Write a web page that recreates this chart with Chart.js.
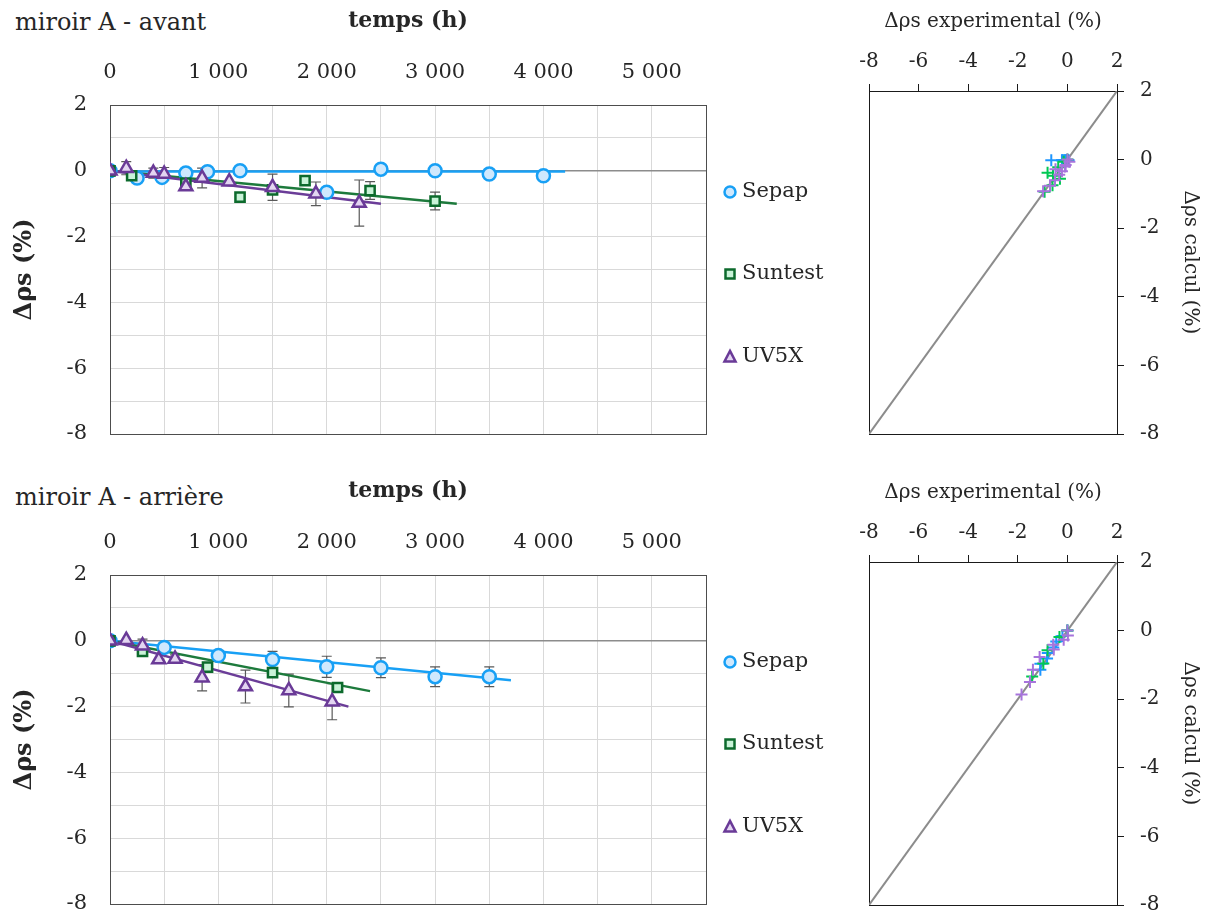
<!DOCTYPE html>
<html lang="fr">
<head>
<meta charset="utf-8">
<title>miroir A</title>
<script src="https://cdn.jsdelivr.net/npm/chart.js@4.4.1/dist/chart.umd.min.js"></script>
<style>
  body { margin: 0; background: #fff; }
  #wrap { position: relative; width: 1208px; height: 915px; overflow: hidden; }
  canvas { position: absolute; }
  .lbl { position: absolute; left: 15px; font: 24px "DejaVu Serif", serif; color: #262626; line-height: 30px; white-space: nowrap; }
</style>
</head>
<body>
<div id="wrap">
  <div class="lbl" style="top:7px">miroir A - avant</div>
  <div class="lbl" style="top:482px">miroir A - arrière</div>
  <canvas id="avant" width="840" height="470" style="left:0;top:0"></canvas>
  <canvas id="avantParity" width="368" height="470" style="left:840px;top:0"></canvas>
  <canvas id="arriere" width="840" height="470" style="left:0;top:470px"></canvas>
  <canvas id="arriereParity" width="368" height="470" style="left:840px;top:471px"></canvas>
</div>
<script>
// --- miroir A - avant : temps (h) / delta rho s (%)
const sepapAvantT = [0, 250, 480, 700, 900, 1200, 2000, 2500, 3000, 3500, 4000];
const sepapAvantV = [0, -0.22, -0.2, -0.07, -0.03, 0, -0.65, 0.05, 0, -0.1, -0.15];
const sepapAvantErr = [0, 0, 0, 0, 0, 0, 0, 0, 0, 0, 0];
const suntestAvantT = [0, 200, 700, 1200, 1500, 1800, 2400, 3000];
const suntestAvantV = [0, -0.15, -0.37, -0.8, -0.58, -0.3, -0.6, -0.92];
const suntestAvantErr = [0, 0, 0, 0, 0, 0, 0.27, 0.27];
const uv5xAvantT = [0, 150, 400, 500, 700, 850, 1100, 1500, 1900, 2300];
const uv5xAvantV = [0, 0.08, -0.07, -0.1, -0.48, -0.22, -0.33, -0.5, -0.7, -0.98];
const uv5xAvantErr = [0, 0.2, 0.15, 0.2, 0, 0.3, 0, 0.4, 0.36, 0.7];

// trend lines (start / end)
const sepapAvantTrendT = [0, 4200];
const sepapAvantTrendV = [-0.02, -0.02];
const suntestAvantTrendT = [0, 3200];
const suntestAvantTrendV = [0, -1.0];
const uv5xAvantTrendT = [0, 2500];
const uv5xAvantTrendV = [0, -1.0];

// calculated values for the parity plot
const sepapAvantCalc = [-0.02, -0.02, -0.02, -0.02, -0.02, -0.02, -0.02, -0.02, -0.02, -0.02, -0.02];
const suntestAvantCalc = [0, -0.06, -0.22, -0.38, -0.47, -0.56, -0.75, -0.94];
const uv5xAvantCalc = [0, -0.06, -0.16, -0.2, -0.28, -0.34, -0.44, -0.6, -0.76, -0.92];

// --- miroir A - arrière
const sepapArriereT = [0, 500, 1000, 1500, 2000, 2500, 3000, 3500];
const sepapArriereV = [0, -0.2, -0.45, -0.57, -0.79, -0.82, -1.09, -1.09];
const sepapArriereErr = [0, 0.1, 0.15, 0.25, 0.32, 0.3, 0.3, 0.3];
const suntestArriereT = [0, 300, 900, 1500, 2100];
const suntestArriereV = [0, -0.32, -0.8, -0.97, -1.42];
const suntestArriereErr = [0, 0, 0, 0, 0];
const uv5xArriereT = [0, 150, 300, 450, 600, 850, 1250, 1650, 2050];
const uv5xArriereV = [0, 0.02, -0.15, -0.57, -0.55, -1.12, -1.39, -1.51, -1.85];
const uv5xArriereErr = [0, 0, 0.2, 0, 0.12, 0.4, 0.5, 0.5, 0.55];

const sepapArriereTrendT = [0, 3700];
const sepapArriereTrendV = [0, -1.2];
const suntestArriereTrendT = [0, 2400];
const suntestArriereTrendV = [0, -1.53];
const uv5xArriereTrendT = [0, 2200];
const uv5xArriereTrendV = [0, -2.0];

const sepapArriereCalc = [0, -0.16, -0.32, -0.49, -0.65, -0.81, -0.97, -1.14];
const suntestArriereCalc = [0, -0.19, -0.57, -0.96, -1.34];
const uv5xArriereCalc = [0, -0.14, -0.27, -0.41, -0.55, -0.77, -1.14, -1.5, -1.86];

// y = x reference line
const diagX = [-8, 2];
const diagY = [-8, 2];

const TEXT = "#262626";
Chart.defaults.font.family = "'DejaVu Serif', serif";
Chart.defaults.font.size = 20;
Chart.defaults.color = TEXT;

const pts = (xs, ys) => xs.map((x, i) => ({ x, y: ys[i] }));
const fmtThousands = (v) => String(v).replace(/\B(?=(\d{3})+(?!\d))/g, " ");

// box around the plot area
const frame = {
  id: "frame",
  beforeDatasetsDraw(chart, args, opts) {
    const { ctx, chartArea: a } = chart;
    ctx.save();
    ctx.strokeStyle = opts.color || "#4d4d4d";
    ctx.lineWidth = 1;
    ctx.strokeRect(Math.round(a.left) + 0.5, Math.round(a.top) + 0.5, Math.round(a.right - a.left), Math.round(a.bottom - a.top));
    ctx.restore();
  },
};

// vertical error bars, drawn under the markers
const errorBars = {
  id: "errorBars",
  beforeDatasetsDraw(chart) {
    const { ctx, scales } = chart;
    ctx.save();
    ctx.strokeStyle = "#595959";
    ctx.lineWidth = 1.2;
    chart.data.datasets.forEach((ds) => {
      if (!ds.errors) return;
      ds.data.forEach((p, i) => {
        const e = ds.errors[i];
        if (!e) return;
        const px = scales.x.getPixelForValue(p.x);
        const top = scales.y.getPixelForValue(p.y + e);
        const bot = scales.y.getPixelForValue(p.y - e);
        ctx.beginPath();
        ctx.moveTo(px, top);
        ctx.lineTo(px, bot);
        ctx.moveTo(px - 5, top);
        ctx.lineTo(px + 5, top);
        ctx.moveTo(px - 5, bot);
        ctx.lineTo(px + 5, bot);
        ctx.stroke();
      });
    });
    ctx.restore();
  },
};

// legend at the right of the time charts, one marker per series
function legendMarker(ctx, style, x, y, r) {
  ctx.beginPath();
  if (style === "circle") {
    ctx.arc(x, y, r, 0, Math.PI * 2);
  } else if (style === "rect") {
    ctx.rect(x - r, y - r, 2 * r, 2 * r);
  } else {
    ctx.moveTo(x, y - r * 1.1);
    ctx.lineTo(x + r, y + r * 0.8);
    ctx.lineTo(x - r, y + r * 0.8);
    ctx.closePath();
  }
  ctx.fill();
  ctx.stroke();
}

const sideLegend = {
  id: "sideLegend",
  afterDraw(chart, args, opts) {
    const { ctx } = chart;
    const items = chart.data.datasets.filter((ds) => !ds.showLine);
    ctx.save();
    items.forEach((ds, i) => {
      const y = opts.ys[i];
      ctx.fillStyle = ds.backgroundColor;
      ctx.strokeStyle = ds.borderColor;
      ctx.lineWidth = 2.5;
      legendMarker(ctx, ds.pointStyle, opts.x, y, ds.pointStyle === "rect" ? 4.5 : 5.5);
      ctx.fillStyle = TEXT;
      ctx.font = "21px 'DejaVu Serif', serif";
      ctx.textBaseline = "middle";
      ctx.fillText(ds.label, opts.x + 12, y);
    });
    ctx.restore();
  },
};

const COLORS = {
  sepap: { line: "#18a0f5", border: "#18a0f5", fill: "#cfe8fd", cross: "#1e96ff" },
  suntest: { line: "#1d7a3c", border: "#0c6a2c", fill: "#c9f3d8", cross: "#00c853" },
  uv5x: { line: "#6b3d98", border: "#6a3a97", fill: "#e3d5f1", cross: "#a774dc" },
};

function markerSet(label, key, style, radius, t, v, err, order) {
  const c = COLORS[key];
  return {
    label,
    data: pts(t, v),
    errors: err,
    pointStyle: style,
    pointRadius: radius,
    pointBorderWidth: 2.5,
    borderColor: c.border,
    backgroundColor: c.fill,
    showLine: false,
    order,
  };
}

function trendSet(key, t, v, order) {
  return {
    data: pts(t, v),
    showLine: true,
    pointRadius: 0,
    borderColor: COLORS[key].line,
    borderWidth: 2.5,
    order,
  };
}

function timeChart(id, sets) {
  return new Chart(document.getElementById(id), {
    type: "scatter",
    data: { datasets: sets },
    options: {
      responsive: false,
      animation: false,
      layout: { padding: { left: 0, top: 0, right: 134, bottom: 36 } },
      plugins: {
        legend: { display: false },
        tooltip: { enabled: false },
        frame: { color: "#4d4d4d" },
        sideLegend: { x: 730, ys: [192, 274, 357] },
      },
      scales: {
        x: {
          type: "linear",
          position: "top",
          min: 0,
          max: 5500,
          afterFit: (s) => { s.height = 105; },
          grid: { color: "#d9d9d9", drawTicks: false },
          border: { display: false },
          ticks: {
            stepSize: 500,
            autoSkip: false,
            maxRotation: 0,
            padding: 20,
            font: { size: 21 },
            callback: (v) => (v % 1000 === 0 ? fmtThousands(v) : ""),
          },
          title: { display: true, text: "temps (h)", font: { weight: "bold", size: 22 }, padding: { top: 8, bottom: 0 } },
        },
        y: {
          min: -8,
          max: 2,
          afterFit: (s) => { s.width = 110; },
          grid: {
            color: (c) => (c.tick && c.tick.value === 0 ? "#8c8c8c" : "#d9d9d9"),
            lineWidth: (c) => (c.tick && c.tick.value === 0 ? 1.5 : 1),
            drawTicks: false,
          },
          border: { display: false },
          ticks: { stepSize: 1, autoSkip: false, padding: 23, font: { size: 21 }, callback: (v) => (v % 2 === 0 ? v : "") },
          title: { display: true, text: "Δρs (%)", font: { weight: "bold", size: 24 }, padding: { top: 10, bottom: 0 } },
        },
      },
    },
    plugins: [frame, errorBars, sideLegend],
  });
}

function crossSet(key, ex, calc, order) {
  return {
    data: pts(ex, calc),
    pointStyle: "cross",
    pointRadius: 6,
    pointBorderWidth: 2,
    borderColor: COLORS[key].cross,
    showLine: false,
    order,
  };
}

function parityChart(id, sets) {
  return new Chart(document.getElementById(id), {
    type: "scatter",
    data: {
      datasets: sets.concat([{
        data: pts(diagX, diagY),
        showLine: true,
        pointRadius: 0,
        borderColor: "#8c8c8c",
        borderWidth: 2,
        order: 5,
      }]),
    },
    options: {
      responsive: false,
      animation: false,
      layout: { padding: { left: 29, top: 0, right: 0, bottom: 36 } },
      plugins: { legend: { display: false }, tooltip: { enabled: false }, frame: { color: "#1a1a1a" } },
      scales: {
        x: {
          type: "linear",
          position: "top",
          min: -8,
          max: 2,
          afterFit: (s) => { s.height = 91; },
          grid: { drawOnChartArea: false, color: "#1a1a1a", tickLength: 7 },
          border: { display: false },
          ticks: { stepSize: 2, padding: 10, maxRotation: 0 },
          title: { display: true, text: "Δρs experimental (%)", font: { size: 20 }, padding: { top: 10, bottom: 0 } },
        },
        y: {
          position: "right",
          min: -8,
          max: 2,
          afterFit: (s) => { s.width = 91; },
          grid: { drawOnChartArea: false, color: "#1a1a1a", tickLength: 7 },
          border: { display: false },
          ticks: { stepSize: 2, padding: 16 },
          title: { display: true, text: "Δρs calcul (%)", font: { size: 20 }, padding: { top: 6, bottom: 0 } },
        },
      },
    },
    plugins: [frame],
  });
}

timeChart("avant", [
  markerSet("Sepap", "sepap", "circle", 6.5, sepapAvantT, sepapAvantV, sepapAvantErr, 2),
  markerSet("Suntest", "suntest", "rect", 6.5, suntestAvantT, suntestAvantV, suntestAvantErr, 1),
  markerSet("UV5X", "uv5x", "triangle", 7.5, uv5xAvantT, uv5xAvantV, uv5xAvantErr, 0),
  trendSet("sepap", sepapAvantTrendT, sepapAvantTrendV, 5),
  trendSet("suntest", suntestAvantTrendT, suntestAvantTrendV, 4),
  trendSet("uv5x", uv5xAvantTrendT, uv5xAvantTrendV, 3),
]);

timeChart("arriere", [
  markerSet("Sepap", "sepap", "circle", 6.5, sepapArriereT, sepapArriereV, sepapArriereErr, 2),
  markerSet("Suntest", "suntest", "rect", 6.5, suntestArriereT, suntestArriereV, suntestArriereErr, 1),
  markerSet("UV5X", "uv5x", "triangle", 7.5, uv5xArriereT, uv5xArriereV, uv5xArriereErr, 0),
  trendSet("sepap", sepapArriereTrendT, sepapArriereTrendV, 5),
  trendSet("suntest", suntestArriereTrendT, suntestArriereTrendV, 4),
  trendSet("uv5x", uv5xArriereTrendT, uv5xArriereTrendV, 3),
]);

parityChart("avantParity", [
  crossSet("sepap", sepapAvantV, sepapAvantCalc, 2),
  crossSet("suntest", suntestAvantV, suntestAvantCalc, 1),
  crossSet("uv5x", uv5xAvantV, uv5xAvantCalc, 0),
]);

parityChart("arriereParity", [
  crossSet("sepap", sepapArriereV, sepapArriereCalc, 2),
  crossSet("suntest", suntestArriereV, suntestArriereCalc, 1),
  crossSet("uv5x", uv5xArriereV, uv5xArriereCalc, 0),
]);
</script>
</body>
</html>
